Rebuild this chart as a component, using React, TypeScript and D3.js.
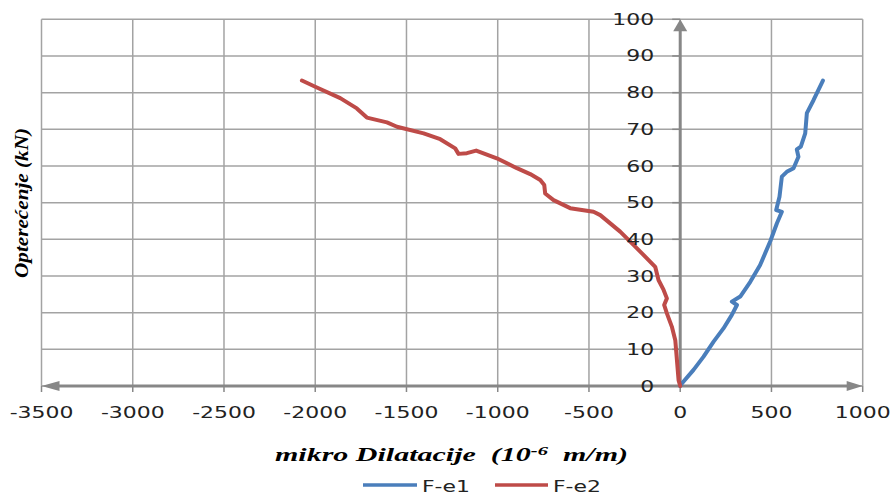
import React from "react";
import * as d3 from "d3";

const xTicks = [-3500, -3000, -2500, -2000, -1500, -1000, -500, 0, 500, 1000];
const yTicks = [0, 10, 20, 30, 40, 50, 60, 70, 80, 90, 100];

const fe1Strain = [0, 9, 73, 128, 183, 237, 283, 311, 283, 329, 384, 438, 493, 530, 557, 526, 544, 557, 584, 621, 648, 639, 661, 685, 694, 731, 782];
const fe1Load = [0, 0.7, 4.4, 8.0, 12.1, 15.7, 19.4, 22.1, 23.0, 24.4, 28.4, 33.0, 39.4, 44.4, 47.5, 48.0, 51.6, 57.1, 58.4, 59.4, 62.5, 64.5, 65.3, 68.9, 74.4, 78.0, 83.3];

const fe2Strain = [0, -9, -18, -27, -46, -73, -88, -73, -91, -119, -137, -192, -256, -329, -438, -475, -603, -694, -740, -745, -767, -822, -895, -1005, -1118, -1169, -1215, -1233, -1315, -1406, -1552, -1607, -1717, -1772, -1863, -2000, -2073];
const fe2Load = [0, 1.6, 7.1, 12.5, 16.2, 19.8, 22.1, 23.9, 26.2, 28.9, 32.5, 35.3, 38.5, 42.1, 46.6, 47.5, 48.5, 50.7, 52.5, 54.8, 56.2, 57.8, 59.4, 62.1, 64.2, 63.5, 63.3, 64.8, 67.3, 68.9, 70.7, 71.9, 73.2, 75.7, 78.5, 81.6, 83.3];

const seriesNames = ["F-e1", "F-e2"];
const colors = ["#4a7ebb", "#be4b48"];

const W = 894;
const H = 496;
const SX = 1.33;

export default function App() {
  const x = d3.scaleLinear().domain([-3500, 1000]).range([41.5, 862.7]);
  const y = d3.scaleLinear().domain([0, 100]).range([386, 19.3]);
  const line = d3
    .line<[number, number]>()
    .x((d) => x(d[0]))
    .y((d) => y(d[1]));
  const s1: [number, number][] = fe1Strain.map((v, i) => [v, fe1Load[i]]);
  const s2: [number, number][] = fe2Strain.map((v, i) => [v, fe2Load[i]]);
  const grid = "#a3a3a3";
  const axis = "#878787";
  const font = "DejaVu Sans";
  const x0 = x(0);
  const y0 = y(0);
  const xl = x(-3500);
  const xr = x(1000);
  const yt = y(100);

  return (
    <svg
      width={W}
      height={H}
      style={{ position: "absolute", left: 0, top: 0, background: "#fff" }}
    >
      {/* grid */}
      {yTicks.map((t) => (
        <line key={"h" + t} x1={xl} x2={xr} y1={y(t)} y2={y(t)} stroke={grid} strokeWidth={1.5} />
      ))}
      {xTicks.map((t) => (
        <line key={"v" + t} x1={x(t)} x2={x(t)} y1={yt} y2={y0} stroke={grid} strokeWidth={1.5} />
      ))}
      {/* x tick marks */}
      {xTicks.map((t) => (
        <line key={"xt" + t} x1={x(t)} x2={x(t)} y1={y0} y2={y0 + 6} stroke={axis} strokeWidth={1.5} />
      ))}
      {/* y tick marks */}
      {yTicks.map((t) => (
        <line key={"yt" + t} x1={x0 - 8} x2={x0} y1={y(t)} y2={y(t)} stroke={axis} strokeWidth={1.5} />
      ))}
      {/* axes */}
      <line x1={xl + 10} x2={xr - 10} y1={y0} y2={y0} stroke={axis} strokeWidth={3} />
      <path d={`M${xl},${y0} L${xl + 18},${y0 - 5} L${xl + 18},${y0 + 5} Z`} fill={axis} />
      <path d={`M${xr},${y0} L${xr - 16},${y0 - 5} L${xr - 16},${y0 + 5} Z`} fill={axis} />
      <line x1={x0} x2={x0} y1={y0 + 1} y2={yt + 8} stroke={axis} strokeWidth={3} />
      <path d={`M${x0},${yt} L${x0 - 7},${yt + 12} L${x0 + 7},${yt + 12} Z`} fill={axis} />

      {/* series */}
      <path d={line(s1) || ""} fill="none" stroke={colors[0]} strokeWidth={4} strokeLinejoin="round" strokeLinecap="round" />
      <path d={line(s2) || ""} fill="none" stroke={colors[1]} strokeWidth={4} strokeLinejoin="round" strokeLinecap="round" />

      {/* y tick labels */}
      {yTicks.map((t) => (
        <g key={"yl" + t} transform={`translate(${x0 - 26},${y(t)}) scale(${SX},1)`}>
          <text textAnchor="end" dominantBaseline="central" fontFamily={font} fontSize={16.5} fill="#222">
            {t}
          </text>
        </g>
      ))}
      {/* x tick labels */}
      {xTicks.map((t) => (
        <g key={"xl" + t} transform={`translate(${x(t)},${412}) scale(${SX},1)`}>
          <text textAnchor="middle" dominantBaseline="central" fontFamily={font} fontSize={16.5} fill="#222">
            {t}
          </text>
        </g>
      ))}

      {/* axis titles */}
      <text
        x={275}
        y={461}
        fontFamily="Liberation Serif"
        fontStyle="italic"
        fontWeight="bold"
        fontSize={19}
        textLength={353}
        lengthAdjust="spacingAndGlyphs"
        fill="#000"
      >
        {"mikro Dilatacije \u00a0(10"}
        <tspan dy={-6} fontSize={13}>-6</tspan>
        <tspan dy={6}>{"\u00a0 m/m)"}</tspan>
      </text>
      <text
        transform={`translate(28,203) rotate(-90)`}
        textAnchor="middle"
        fontFamily="Liberation Serif"
        fontStyle="italic"
        fontWeight="bold"
        fontSize={19.5}
        textLength={150}
        lengthAdjust="spacingAndGlyphs"
        fill="#000"
      >
        Opterećenje (kN)
      </text>

      {/* legend */}
      <line x1={363} x2={417} y1={485} y2={485} stroke={colors[0]} strokeWidth={3.5} />
      <g transform={`translate(422,486) scale(${SX},1)`}>
        <text dominantBaseline="central" fontFamily={font} fontSize={16.5} fill="#222">
          {seriesNames[0]}
        </text>
      </g>
      <line x1={495} x2={548} y1={485} y2={485} stroke={colors[1]} strokeWidth={3.5} />
      <g transform={`translate(553,486) scale(${SX},1)`}>
        <text dominantBaseline="central" fontFamily={font} fontSize={16.5} fill="#222">
          {seriesNames[1]}
        </text>
      </g>
    </svg>
  );
}
